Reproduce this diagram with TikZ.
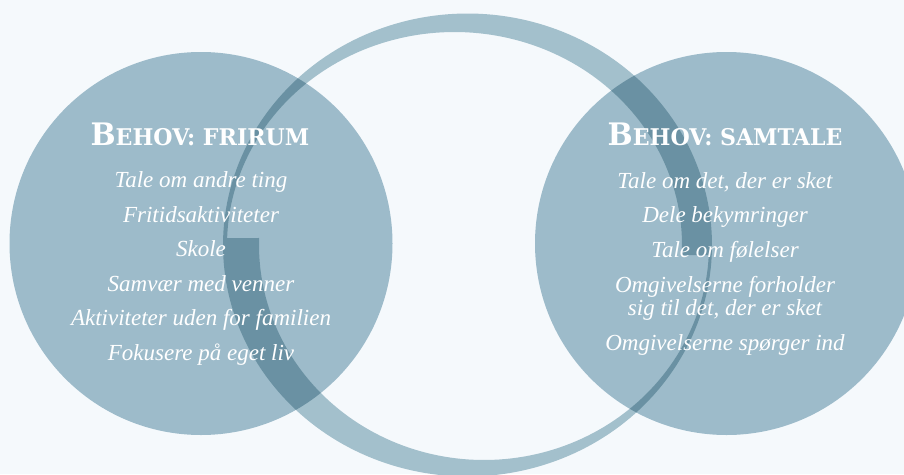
\documentclass[tikz,border=0pt]{standalone}
\usepackage{fontspec}
\setmainfont{Liberation Serif}
\newfontfamily\slabfont{DejaVu Serif}[FakeStretch=0.96]

\definecolor{paper}{HTML}{F5F9FC}
\definecolor{disc}{HTML}{9DBBCA}
\definecolor{band}{HTML}{A3C0CC}
\definecolor{bandover}{HTML}{6A91A3}

\newcommand\headcaps[2]{{\fontsize{31}{31}\selectfont #1}{\fontsize{23}{23}\selectfont #2}}

% the open ring: two tapering half strokes sharing one outer ellipse
\newcommand\ringpath{%
  % lower stroke, wide at the left, thin at the right
  plot[domain=-181.7:5, samples=120] ({467.5+244.5*cos(\x)}, {245-231.5*sin(\x)})
  -- plot[domain=-5:181.87, samples=120] ({484+225*cos(\x)}, {245+215*sin(\x)}) -- cycle
  % upper stroke, wide at the right, thin at the left
  plot[domain=-2.48:181.24, samples=120] ({467.5+244.5*cos(\x)}, {245-231.5*sin(\x)})
  -- plot[domain=-181.35:2.69, samples=120] ({454.5+227.5*cos(\x)}, {245+213*sin(\x)}) -- cycle
}

\tikzset{
  item/.style={text=white, font=\itshape\fontsize{23}{23}\selectfont, anchor=base, inner sep=0pt},
  heading/.style={text=white, font=\slabfont\bfseries, anchor=base, inner sep=0pt},
}

\begin{document}
\begin{tikzpicture}[x=1pt, y=-1pt]
  \useasboundingbox (0,0) rectangle (904,474);
  \fill[paper] (0,0) rectangle (904,474);

  % the two need circles
  \fill[disc] (201,243.5) circle[radius=191.5];
  \fill[disc] (726.5,243.5) circle[radius=191.5];

  % ring, then the part of it lying on the circles in a darker tone
  \fill[band] \ringpath;
  \begin{scope}
    \clip (201,243.5) circle[radius=191.5] (726.5,243.5) circle[radius=191.5];
    \fill[bandover] \ringpath;
  \end{scope}

  % left circle
  \node[heading] (lhead) at (200,145) {\headcaps{B}{EHOV: FRIRUM}};
  \node[item] (l1) at (201,187.5) {Tale om andre ting};
  \node[item] (l2) at (201,222) {Fritidsaktiviteter};
  \node[item] (l3) at (201,256.5) {Skole};
  \node[item] (l4) at (201,291) {Samvær med venner};
  \node[item] (l5) at (201,325.5) {Aktiviteter uden for familien};
  \node[item] (l6) at (201,360) {Fokusere på eget liv};

  % right circle
  \node[heading] (rhead) at (725,145) {\headcaps{B}{EHOV: SAMTALE}};
  \node[item] (r1) at (725,188.5) {Tale om det, der er sket};
  \node[item] (r2) at (725,222.5) {Dele bekymringer};
  \node[item] (r3) at (725,257) {Tale om følelser};
  \node[item] (r4) at (725,292) {Omgivelserne forholder};
  \node[item] (r5) at (725,315) {sig til det, der er sket};
  \node[item] (r6) at (725,350) {Omgivelserne spørger ind};
\end{tikzpicture}
\end{document}
